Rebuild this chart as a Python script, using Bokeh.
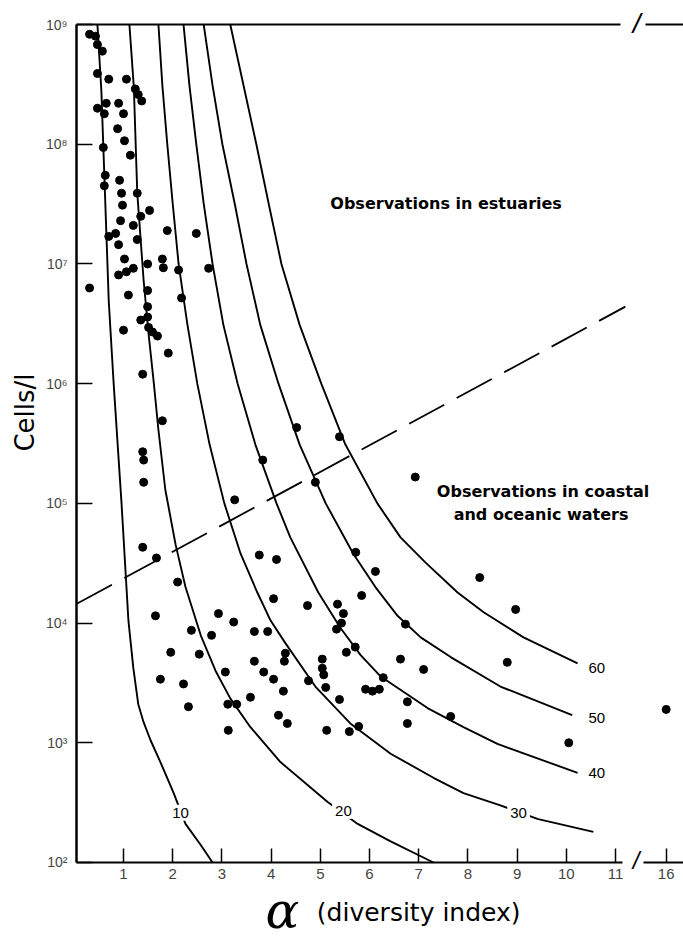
from bokeh.plotting import figure
from bokeh.models import Range1d, FixedTicker, Label, LinearAxis, LogAxis
from bokeh.embed import file_html
from bokeh.resources import INLINE

# ------------------------------------------------------------------ data
# observations: Fisher's alpha (diversity index) and cells per litre
obs_alpha = [0.31, 0.43, 0.47, 0.57, 0.47, 0.70, 1.06, 1.24, 1.30, 1.37,
             0.47, 0.65, 0.90, 0.61, 1.00, 0.88, 1.02, 0.59, 1.14, 0.63,
             0.61, 0.92, 0.96, 1.28, 0.98, 1.53, 1.35, 0.94, 1.20, 0.70,
             0.84, 1.28, 1.89, 2.48, 0.90, 1.02, 1.49, 1.79, 1.81, 2.12,
             2.73, 0.90, 1.06, 1.20, 0.31, 1.10, 1.49, 2.18, 1.49, 1.35,
             1.49, 1.51, 1.00, 1.59, 1.69, 1.91, 1.39, 1.79, 1.39, 1.41,
             1.41, 3.26, 1.39, 1.67, 2.10, 1.65, 2.93, 3.24, 2.38, 2.79,
             1.96, 2.54, 3.66, 3.07, 1.75, 2.22, 3.58, 2.32, 3.12, 3.30,
             3.13, 3.83, 4.52, 5.39, 4.90, 6.93, 3.76, 4.11, 5.72, 6.12,
             5.84, 4.05, 4.74, 5.35, 5.47, 5.43, 5.33, 3.66, 3.93, 6.73,
             4.29, 4.27, 5.04, 5.04, 5.07, 5.53, 5.71, 6.63, 7.10, 8.80,
             3.85, 4.05, 4.25, 4.76, 5.11, 5.39, 5.92, 6.06, 6.20, 6.28,
             6.77, 7.65, 4.15, 4.33, 5.13, 5.59, 5.78, 6.77, 8.24, 8.97,
             10.05, 16.0]
obs_cells = [8.3e8, 8.0e8, 6.8e8, 6.0e8, 3.9e8, 3.5e8, 3.5e8, 2.9e8, 2.6e8, 2.3e8,
             2.0e8, 2.2e8, 2.2e8, 1.8e8, 1.8e8, 1.35e8, 1.07e8, 9.4e7, 8.1e7, 5.5e7,
             4.5e7, 5.0e7, 3.9e7, 3.9e7, 3.1e7, 2.8e7, 2.5e7, 2.3e7, 2.1e7, 1.7e7,
             1.8e7, 1.6e7, 1.9e7, 1.8e7, 1.45e7, 1.1e7, 1.0e7, 1.1e7, 9.3e6, 8.9e6,
             9.2e6, 8.1e6, 8.6e6, 9.2e6, 6.3e6, 5.5e6, 6.0e6, 5.2e6, 4.4e6, 3.4e6,
             3.6e6, 2.95e6, 2.8e6, 2.7e6, 2.5e6, 1.8e6, 1.2e6, 4.9e5, 2.7e5, 2.3e5,
             1.5e5, 1.07e5, 4.3e4, 3.5e4, 2.2e4, 1.15e4, 1.2e4, 1.02e4, 8.7e3, 7.9e3,
             5.7e3, 5.5e3, 4.8e3, 3.9e3, 3.4e3, 3.1e3, 2.4e3, 2.0e3, 2.1e3, 2.1e3,
             1.27e3, 2.3e5, 4.3e5, 3.6e5, 1.5e5, 1.66e5, 3.7e4, 3.4e4, 3.9e4, 2.7e4,
             1.7e4, 1.6e4, 1.4e4, 1.44e4, 1.2e4, 1.0e4, 8.9e3, 8.5e3, 8.5e3, 9.8e3,
             5.6e3, 4.8e3, 5.0e3, 4.2e3, 3.7e3, 5.7e3, 6.3e3, 5.0e3, 4.1e3, 4.7e3,
             3.9e3, 3.4e3, 2.7e3, 3.3e3, 2.9e3, 2.3e3, 2.8e3, 2.7e3, 2.8e3, 3.5e3,
             2.2e3, 1.66e3, 1.7e3, 1.45e3, 1.27e3, 1.24e3, 1.37e3, 1.45e3, 2.4e4, 1.3e4,
             1.0e3, 1.9e3]

# isolines of species number
curve_labels = ["10", "20", "30", "40", "50", "60"]
s10_alpha = [0.47, 0.55, 0.59, 0.65, 0.70, 0.80, 0.96, 1.10, 1.20, 1.30, 1.41, 1.55, 1.75, 2.02, 2.26, 2.57, 2.81]
s10_cells = [1e9, 2.8e8, 9.5e7, 1.9e7, 4.9e6, 1.0e6, 1.0e5, 1.05e4, 4.2e3, 2.1e3, 1.48e3, 1.05e3, 6.9e2, 3.8e2, 2.1e2, 1.4e2, 1.0e2]
s20_alpha = [1.12, 1.21, 1.28, 1.41, 1.51, 1.61, 1.71, 1.85, 2.06, 2.26, 2.57, 2.87, 3.17, 3.58, 4.19, 5.15, 5.76, 6.43, 7.30]
s20_cells = [1e9, 3.0e8, 3.9e7, 7.2e6, 2.6e6, 1.07e6, 4.1e5, 1.3e5, 4.5e4, 2.0e4, 7.9e3, 4.0e3, 2.35e3, 1.35e3, 6.9e2, 3.2e2, 2.1e2, 1.5e2, 1.0e2]
s30_alpha = [1.71, 1.79, 1.89, 2.00, 2.12, 2.30, 2.50, 2.75, 3.05, 3.38, 3.72, 3.99, 4.29, 4.90, 5.61, 6.43, 7.30, 7.91, 8.66, 9.43, 10.55]
s30_cells = [1e9, 3.1e8, 1.0e8, 3.2e7, 1.0e7, 3.1e6, 1.0e6, 3.1e5, 1.0e5, 3.8e4, 1.8e4, 1.05e4, 6.8e3, 2.95e3, 1.45e3, 8.1e2, 5.1e2, 3.8e2, 3.0e2, 2.3e2, 1.8e2]
s40_alpha = [2.22, 2.34, 2.48, 2.63, 2.81, 3.03, 3.32, 3.68, 4.11, 4.39, 4.96, 5.41, 5.82, 6.22, 7.18, 7.91, 8.60, 10.23]
s40_cells = [1e9, 3.1e8, 1.0e8, 3.2e7, 1.0e7, 3.1e6, 1.0e6, 3.1e5, 1.0e5, 5.2e4, 1.8e4, 9.1e3, 5.4e3, 3.6e3, 1.95e3, 1.35e3, 9.8e2, 5.6e2]
s50_alpha = [2.63, 2.81, 3.01, 3.26, 3.50, 3.78, 4.15, 4.58, 5.11, 5.67, 6.12, 6.57, 7.04, 7.65, 8.66, 10.12]
s50_cells = [1e9, 3.1e8, 1.0e8, 3.2e7, 1.0e7, 3.1e6, 1.0e6, 3.1e5, 1.0e5, 3.8e4, 2.0e4, 1.15e4, 7.6e3, 5.2e3, 2.95e3, 1.7e3]
s60_alpha = [3.17, 3.44, 3.70, 3.95, 4.21, 4.58, 5.02, 5.51, 6.16, 6.63, 7.14, 7.79, 8.32, 9.13, 10.23]
s60_cells = [1e9, 3.1e8, 1.0e8, 3.2e7, 1.0e7, 3.1e6, 1.0e6, 3.1e5, 1.0e5, 5.2e4, 3.2e4, 1.8e4, 1.23e4, 7.6e3, 4.6e3]

# boundary between estuarine and coastal/oceanic observations
boundary_alpha = [0.05, 11.2]
boundary_cells = [1.45e4, 4.4e6]

x_tick_values = [1, 2, 3, 4, 5, 6, 7, 8, 9, 10, 11]
x_tick_after_break = 16
y_tick_values = [1e2, 1e3, 1e4, 1e5, 1e6, 1e7, 1e8, 1e9]
y_tick_labels = ["10²", "10³", "10⁴", "10⁵", "10⁶", "10⁷", "10⁸", "10⁹"]

# ------------------------------------------------------------------ broken x axis
BREAK_SHIFT = 3.97          # values beyond the break (16) are drawn shifted left


def disp(a):
    return a if a <= 11.5 else a - BREAK_SHIFT


FONT = "Liberation Sans"
X_LO, X_HI = 0.045, 12.382          # axis extent (alpha)
Y_LO, Y_HI = 1e2, 1e9               # axis extent (cells/l)

# the frame covers the whole canvas; axes are pinned with fixed_location
p = figure(width=683, height=939, output_backend="svg", toolbar_location=None,
           x_range=Range1d(-1.5, X_HI), y_range=Range1d(22.73, 1.589e9),
           y_axis_type="log", x_axis_location=None, y_axis_location=None,
           min_border_left=0, min_border_right=0, min_border_top=0,
           min_border_bottom=0)
p.xgrid.visible = False
p.ygrid.visible = False
p.outline_line_color = None
p.background_fill_color = "white"
p.border_fill_color = "white"

# isolines
curves = [(s10_alpha, s10_cells), (s20_alpha, s20_cells), (s30_alpha, s30_cells),
          (s40_alpha, s40_cells), (s50_alpha, s50_cells), (s60_alpha, s60_cells)]
for xs, ys in curves:
    p.line([disp(v) for v in xs], ys, line_color="black", line_width=1.9,
           line_join="round")

# boundary dashed line
p.line([disp(v) for v in boundary_alpha], boundary_cells, line_color="black",
       line_width=1.8, line_dash="40 14")

# observations
p.scatter([disp(v) for v in obs_alpha], obs_cells, size=8, marker="circle",
          fill_color="black", line_color="black")

# ---------------------------------------------------------------- axes
def style_x(ax):
    ax.major_tick_in = 14
    ax.major_tick_out = 0
    ax.minor_tick_line_color = None
    ax.axis_line_width = 2
    ax.major_tick_line_width = 1.5
    ax.major_label_text_font = FONT
    ax.major_label_text_font_size = "15px"
    ax.major_label_standoff = 7


xa = LinearAxis(fixed_location=Y_LO, bounds=(X_LO, 11.15),
                ticker=FixedTicker(ticks=[disp(v) for v in x_tick_values]))
style_x(xa)
p.add_layout(xa, "below")

pos16 = disp(x_tick_after_break)
xb = LinearAxis(fixed_location=Y_LO, bounds=(11.57, X_HI),
                ticker=FixedTicker(ticks=[pos16]),
                major_label_overrides={pos16: str(x_tick_after_break)})
style_x(xb)
p.add_layout(xb, "below")

ya = LogAxis(fixed_location=X_LO, bounds=(Y_LO, Y_HI),
             ticker=FixedTicker(ticks=y_tick_values),
             major_label_overrides=dict(zip(y_tick_values, y_tick_labels)))
ya.major_tick_in = 16
ya.major_tick_out = 0
ya.minor_tick_line_color = None
ya.axis_line_width = 2.5
ya.major_tick_line_width = 1.5
ya.major_label_text_font = FONT
ya.major_label_text_font_size = "14px"
ya.major_label_standoff = 9
p.add_layout(ya, "left")

for lo, hi in [(X_LO, 11.10), (11.61, X_HI)]:
    ta = LinearAxis(fixed_location=Y_HI, bounds=(lo, hi), ticker=FixedTicker(ticks=[]),
                    axis_line_width=2, major_tick_line_color=None,
                    minor_tick_line_color=None)
    p.add_layout(ta, "above")


def lab(x, y, text, size, font=FONT, angle=0.0, style="normal", bg=None):
    kw = dict(x=x, y=y, text=text, text_font=font, text_font_size=size,
              text_font_style=style, text_align="center", text_baseline="middle",
              angle=angle, text_color="black")
    if bg:
        kw["background_fill_color"] = bg
    L = Label(**kw)
    if bg:
        try:
            L.padding = 3
        except Exception:
            pass
    p.add_layout(L)


# isoline labels (white box hides the line behind the number)
label_pos = [(2.16, 2.6e2), (5.47, 2.7e2), (9.03, 2.6e2),
             (10.62, 5.6e2), (10.62, 1.6e3), (10.62, 4.2e3)]
for (lx, ly), t in zip(label_pos, curve_labels):
    lab(lx, ly, t, "15px", bg="white")

lab(7.67, 3.2e7, "Observations  in  estuaries", "16px", font="DejaVu Sans", style="bold")
lab(9.64, 1.25e5, "Observations  in  coastal", "16px", font="DejaVu Sans", style="bold")
lab(9.60, 8.0e4, "and  oceanic  waters", "16px", font="DejaVu Sans", style="bold")

# axis titles
lab(-1.012, 5.74e5, "Cells/l", "26px", font="DejaVu Sans", angle=1.5708)
lab(4.23, 39.0, "α", "50px", font="DejaVu Serif", style="italic")
lab(7.0, 38.0, "(diversity index)", "25px", font="DejaVu Sans")

# axis-break marks
lab(11.42, 104.0, "/", "24px", style="italic")
lab(11.43, 1.02e9, "/", "28px", style="italic")

open("out.html", "w").write(file_html(p, INLINE))
